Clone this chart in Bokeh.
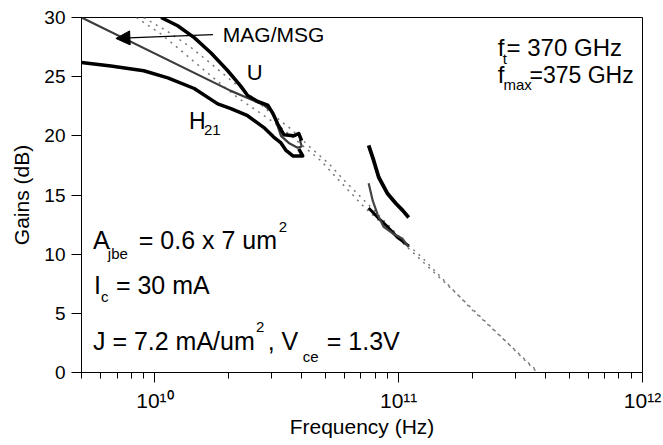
from bokeh.plotting import figure
from bokeh.models import Label, Arrow, NormalHead, FixedTicker, CustomJSTickFormatter
from bokeh.embed import file_html
from bokeh.resources import INLINE

# ---- data (frequency in GHz, gain in dB) ----
u_lo_f = [10.6, 12.4, 14.5, 17.0, 19.9, 22.5, 24.0, 26.4, 29.0, 30.5, 31.9, 33.8, 37.1, 38.9, 40.0]
u_lo_g = [30.0, 29.3, 28.3, 27.0, 25.5, 24.2, 23.4, 22.9, 22.6, 21.9, 21.0, 20.1, 20.0, 20.2, 19.6]
mag_lo_f = [5.0, 20.5, 24.0, 28.0, 29.9, 31.3, 32.9, 35.4, 38.5, 40.0, 39.3]
mag_lo_g = [30.0, 23.8, 23.2, 22.6, 22.1, 21.3, 20.0, 19.4, 19.0, 19.1, 19.7]
h21_lo_f = [5.0, 6.6, 9.0, 11.3, 14.5, 18.1, 20.5, 24.0, 28.0, 30.7, 32.9, 34.4, 36.8, 40.4, 38.9]
h21_lo_g = [26.2, 25.9, 25.5, 24.9, 24.0, 22.7, 22.3, 21.7, 20.7, 19.9, 19.4, 18.8, 18.3, 18.3, 18.9]

u_hi_f = [75.3, 79.0, 82.8, 90.1, 97.2, 103.8, 109.9]
u_hi_g = [19.2, 17.9, 16.5, 15.1, 14.3, 13.7, 13.1]
mag_hi_f = [75.3, 78.3, 82.1, 86.8, 95.4, 103.8, 109.9]
mag_hi_g = [16.0, 14.5, 13.3, 12.3, 11.7, 11.3, 10.6]
h21_hi_f = [75.3, 82.1, 90.1, 99.1, 109.9]
h21_hi_g = [13.9, 13.1, 12.3, 11.4, 10.7]

ft_f = [8.4, 10.6, 12.8, 15.4, 18.6, 21.9, 27.2, 32.9, 39.7, 47.9, 54.2, 72.0, 115.0, 170.0, 270.0, 370.0]
ft_g = [30.0, 28.6, 27.2, 25.8, 24.4, 23.2, 21.9, 20.7, 19.3, 17.9, 16.7, 14.0, 10.1, 6.8, 2.8, 0.0]
fmax_f = [9.0, 11.3, 14.0, 17.0, 20.5, 25.0, 30.0, 36.0, 43.0, 52.0, 60.0, 75.0, 105.0, 125.0, 200.0, 300.0, 375.0]
fmax_g = [30.0, 28.8, 27.5, 26.1, 24.7, 23.3, 21.9, 20.6, 19.1, 17.6, 16.2, 14.2, 11.1, 9.7, 5.3, 1.9, 0.0]

y_ticks = [0, 5, 10, 15, 20, 25, 30]
x_major_exp = [10, 11, 12]

GHz = 1e9
FONT = "Liberation Sans"

p = figure(width=663, height=445, x_axis_type="log",
           x_range=(5e9, 1e12), y_range=(0, 30),
           output_backend="svg", toolbar_location=None,
           min_border_left=81, min_border_right=21,
           min_border_top=17, min_border_bottom=73)
p.background_fill_color = "white"
p.border_fill_color = "white"
p.xgrid.visible = False
p.ygrid.visible = False
p.outline_line_color = "black"
p.outline_line_width = 1

# axes
p.yaxis.ticker = FixedTicker(ticks=y_ticks)
p.yaxis.major_tick_out = 10
p.yaxis.major_tick_in = 0
p.yaxis.major_label_text_font = FONT
p.yaxis.major_label_text_font_size = "19px"
p.yaxis.major_label_text_color = "black"
p.yaxis.major_label_standoff = 6
p.yaxis.axis_label = "Gains (dB)"
p.yaxis.axis_label_text_font = FONT
p.yaxis.axis_label_text_font_size = "21px"
p.yaxis.axis_label_text_font_style = "normal"
p.yaxis.axis_label_text_color = "black"
p.yaxis.axis_label_standoff = 8

minor = [m * 10 ** e for e in (9, 10, 11) for m in range(2, 10)]
p.xaxis.ticker = FixedTicker(ticks=[10.0 ** e for e in x_major_exp], minor_ticks=minor)
p.xaxis.formatter = CustomJSTickFormatter(code="""
const sup = {"0":"\u2070","1":"\u00b9","2":"\u00b2","3":"\u00b3","4":"\u2074",
             "5":"\u2075","6":"\u2076","7":"\u2077","8":"\u2078","9":"\u2079"};
const e = Math.round(Math.log10(tick));
return "10" + String(e).split("").map(c => sup[c]).join("");
""")
p.xaxis.major_tick_out = 10
p.xaxis.major_tick_in = 0
p.xaxis.minor_tick_out = 6
p.xaxis.minor_tick_in = 0
p.xaxis.major_label_text_font = FONT
p.xaxis.major_label_text_font_size = "21px"
p.xaxis.major_label_text_color = "black"
p.xaxis.major_label_standoff = 6
p.xaxis.axis_label = "Frequency (Hz)"
p.xaxis.axis_label_text_font = FONT
p.xaxis.axis_label_text_font_size = "21px"
p.xaxis.axis_label_text_font_style = "normal"
p.xaxis.axis_label_text_color = "black"
p.xaxis.axis_label_standoff = 0
for ax in (p.xaxis, p.yaxis):
    ax.axis_line_color = "black"
    ax.major_tick_line_color = "black"
p.xaxis.minor_tick_line_color = "black"
p.yaxis.minor_tick_line_color = None

# dotted extrapolation lines
p.line([f * GHz for f in ft_f], ft_g, line_color="#777777", line_width=1.5, line_dash="2 5")
p.line([f * GHz for f in fmax_f], fmax_g, line_color="#777777", line_width=1.5, line_dash="2 5")

# measured curves
p.line([f * GHz for f in h21_lo_f], h21_lo_g, line_color="black", line_width=3.5, line_join="round")
p.line([f * GHz for f in mag_lo_f], mag_lo_g, line_color="#3c3c3c", line_width=2.2, line_join="round")
p.line([f * GHz for f in u_lo_f], u_lo_g, line_color="black", line_width=3.5, line_join="round")

p.line([f * GHz for f in h21_hi_f], h21_hi_g, line_color="black", line_width=3, line_join="round")
p.line([f * GHz for f in mag_hi_f], mag_hi_g, line_color="#444444", line_width=2.2, line_join="round")
p.line([f * GHz for f in u_hi_f], u_hi_g, line_color="black", line_width=3.8, line_join="round")

# annotations (y given at text baseline; small lift compensates label box offset)
LIFT = 0.65
def txt(x_ghz, y_db, s, size):
    p.add_layout(Label(x=x_ghz * GHz, y=y_db + LIFT, text=s, text_font=FONT,
                       text_font_size=size, text_color="black",
                       text_align="left", text_baseline="alphabetic"))

txt(19.0, 27.94, "MAG/MSG", "21px")
p.add_layout(Arrow(end=NormalHead(size=14, fill_color="black", line_color="black"),
                   x_start=17.3 * GHz, y_start=28.56, x_end=6.92 * GHz, y_end=28.23,
                   line_color="black", line_width=1.2))
txt(23.8, 24.68, "U", "22px")
txt(13.8, 20.62, "H", "23px")
txt(15.9, 19.86, "21", "15px")

txt(255, 26.79, "f", "24px")
txt(267, 25.86, "t", "15px")
txt(277, 26.79, "= 370 GHz", "24px")
txt(255, 24.51, "f", "24px")
txt(269, 23.66, "max", "15px")
txt(344, 24.51, "=375 GHz", "23px")

txt(5.57, 10.56, "A", "25px")
txt(6.41, 9.38, "jbe", "15px")
txt(8.59, 10.56, "= 0.6 x 7 um", "25px")
txt(32.2, 11.66, "2", "15px")
txt(5.63, 6.76, "I", "25px")
txt(6.01, 5.75, "c", "15px")
txt(6.92, 6.76, "= 30 mA", "25px")
txt(5.57, 2.03, "J = 7.2 mA/um", "25px")
txt(26.0, 3.21, "2", "15px")
txt(29.0, 2.03, ", V", "25px")
txt(40.4, 0.68, "ce", "15px")
txt(50.7, 2.03, "= 1.3V", "25px")

open("out.html", "w").write(file_html(p, INLINE))
